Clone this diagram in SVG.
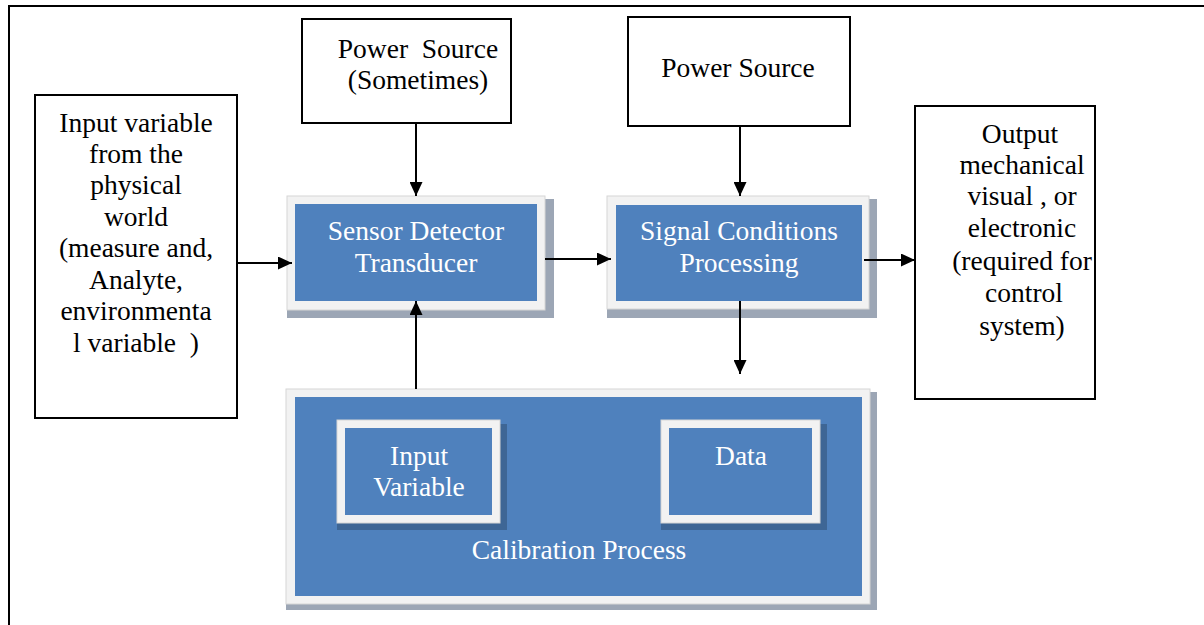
<svg xmlns="http://www.w3.org/2000/svg" width="1204" height="625" viewBox="0 0 1204 625">
<defs>
<style>
text{font-family:'Liberation Serif','Tinos','Times New Roman','DejaVu Serif',serif;font-size:27.5px;text-anchor:middle}
.k{fill:#000}
.w{fill:#fff}
.box{fill:#fff;stroke:#000;stroke-width:2}
.sh{fill:#9ca6b5}
.fr{fill:#f2f2f2;stroke:#d6d6d6;stroke-width:1}
.bl{fill:#4f81bd}
.ish{fill:#3e6695}
.c{stroke:#000;stroke-width:2;fill:none;marker-end:url(#ah)}
</style>
<marker id="ah" viewBox="0 0 14 13" refX="14" refY="6.5" markerWidth="14" markerHeight="13" markerUnits="userSpaceOnUse" orient="auto">
<path d="M0,0 L14,6.5 L0,13 Z" fill="#000"/>
</marker>
</defs>
<rect width="1204" height="625" fill="#fff"/>
<path d="M9,625 L9,6 L1204,6" fill="none" stroke="#000" stroke-width="2"/>

<g id="input">
<rect class="box" x="35" y="95" width="202" height="323"/>
<text class="k" x="136" y="132">Input variable</text>
<text class="k" x="136" y="163">from the</text>
<text class="k" x="136" y="194">physical</text>
<text class="k" x="136" y="226">world</text>
<text class="k" x="136" y="257">(measure and,</text>
<text class="k" x="136" y="289">Analyte,</text>
<text class="k" x="136" y="320">environmenta</text>
<text class="k" x="136" y="352" xml:space="preserve">l variable  )</text>
</g>

<g id="power1">
<rect class="box" x="302" y="19" width="209" height="104"/>
<text class="k" x="418" y="58" xml:space="preserve">Power  Source</text>
<text class="k" x="418" y="89">(Sometimes)</text>
</g>

<g id="power2">
<rect class="box" x="628" y="17" width="222" height="109"/>
<text class="k" x="738" y="77">Power Source</text>
</g>

<g id="output">
<rect class="box" x="915" y="106" width="180" height="293"/>
<text class="k" x="1020" y="143">Output</text>
<text class="k" x="1022" y="174">mechanical</text>
<text class="k" x="1022" y="205">visual , or</text>
<text class="k" x="1022" y="237">electronic</text>
<text class="k" x="1022" y="270">(required for</text>
<text class="k" x="1024" y="302">control</text>
<text class="k" x="1022" y="335">system)</text>
</g>

<g id="sensor">
<rect class="sh" x="287" y="199" width="267" height="119"/>
<rect class="fr" x="287" y="196" width="258" height="114"/>
<rect class="bl" x="295" y="204" width="242" height="97"/>
<text class="w" x="416" y="240">Sensor Detector</text>
<text class="w" x="416" y="272">Transducer</text>
</g>

<g id="signal">
<rect class="sh" x="607" y="199" width="270" height="119"/>
<rect class="fr" x="607" y="196" width="262" height="113"/>
<rect class="bl" x="616" y="205" width="246" height="96"/>
<text class="w" x="739" y="240">Signal Conditions</text>
<text class="w" x="739" y="272">Processing</text>
</g>

<g id="calibration">
<rect class="sh" x="286" y="392" width="591" height="218"/>
<rect class="fr" x="286" y="389" width="584" height="215"/>
<rect class="bl" x="295" y="397" width="567" height="199"/>
<g id="inputvar">
<rect class="ish" x="337" y="424" width="170" height="106"/>
<rect class="fr" x="337" y="420" width="163" height="103"/>
<rect class="bl" x="345" y="428" width="147" height="87"/>
<text class="w" x="419" y="465">Input</text>
<text class="w" x="419" y="496">Variable</text>
</g>
<g id="data">
<rect class="ish" x="661" y="424" width="166" height="106"/>
<rect class="fr" x="661" y="420" width="159" height="103"/>
<rect class="bl" x="669" y="428" width="143" height="87"/>
<text class="w" x="741" y="465">Data</text>
</g>
<text class="w" x="579" y="559">Calibration Process</text>
</g>

<g id="connectors">
<line class="c" x1="237" y1="263" x2="292" y2="263"/>
<line class="c" x1="416" y1="123" x2="416" y2="196"/>
<line class="c" x1="740" y1="126" x2="740" y2="196"/>
<line class="c" x1="545" y1="259" x2="611" y2="259"/>
<line class="c" x1="864" y1="260" x2="915" y2="260"/>
<line class="c" x1="740" y1="301" x2="740" y2="374"/>
<line class="c" x1="416" y1="389" x2="416" y2="301"/>
</g>
</svg>
